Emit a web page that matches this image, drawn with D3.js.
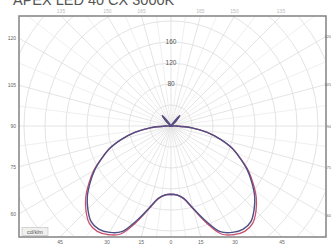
<!DOCTYPE html>
<html><head><meta charset="utf-8">
<script src="https://cdn.jsdelivr.net/npm/d3@7"></script>
<style>body{margin:0;background:#fff}svg{display:block}</style>
</head><body><svg id="c" width="331" height="250"></svg>
<script>
const title = "APEX LED 40 CX 3000K";
const unitLabel = "cd/klm";
const gammas = d3.range(0, 181, 5);
// C0-C180 plane (blue) and C90-C270 plane (red), intensity in cd/klm per gamma
const seriesC0 = [130,132,140,162,192,222,234,240,237,224,208,188,168,145,124,97,70,40,10,2,0,0,0,0,0,0,2,14,26,6,0,0,0,0,0,0,0];
const seriesC90 = [130,132,141,164,196,227,239,245,242,229,212,191,170,146,124,97,70,40,10,2,0,0,0,0,0,0,2,14,26,6,0,0,0,0,0,0,0];
const ringValues = d3.range(40, 401, 40);
const ringLabels = [80, 120, 160];
const edgeAngles = d3.range(-180, 181, 15);

const svg = d3.select("#c");
const frame = {x0: 19, y0: 16, x1: 326, y1: 237};
const cx = 171, cy = 126;
const r = d3.scaleLinear().domain([0, 400]).range([0, 210]);

svg.append("text").attr("x", 13).attr("y", 5).attr("font-family", "Liberation Sans, Arial, sans-serif")
  .attr("font-size", 14.5).attr("fill", "#555").text(title);

svg.append("clipPath").attr("id", "fc").append("rect")
  .attr("x", frame.x0).attr("y", frame.y0).attr("width", frame.x1 - frame.x0).attr("height", frame.y1 - frame.y0);

const g = svg.append("g").attr("clip-path", "url(#fc)");
const grid = g.append("g").attr("transform", `translate(${cx},${cy})`);
grid.selectAll("circle").data(ringValues).enter().append("circle")
  .attr("r", d => r(d)).attr("fill", "none").attr("stroke", "#dcdcdc").attr("stroke-width", 0.8);
grid.selectAll("line.sp").data(d3.range(0, 360, 7.5)).enter().append("line")
  .attr("x1", 0).attr("y1", 0)
  .attr("x2", d => Math.sin(d * Math.PI / 180) * 400)
  .attr("y2", d => Math.cos(d * Math.PI / 180) * 400)
  .attr("stroke", d => d % 15 === 0 ? "#d8d8d8" : "#e8e8e8").attr("stroke-width", 0.7);

// curves
function pts(vals) {
  const right = gammas.map((gm, i) => [Math.PI - gm * Math.PI / 180, r(vals[i])]);
  const left = gammas.slice().reverse().map((gm, k) => {
    const i = gammas.length - 1 - k;
    return [Math.PI + gm * Math.PI / 180, r(vals[i])];
  });
  return right.concat(left.slice(1));
}
const line = d3.lineRadial().angle(d => d[0]).radius(d => d[1]).curve(d3.curveCatmullRomClosed);
const cg = g.append("g").attr("transform", `translate(${cx},${cy})`);
cg.append("path").attr("d", line(pts(seriesC90))).attr("fill", "none").attr("stroke", "#c8506e").attr("stroke-width", 1.3);
cg.append("path").attr("d", line(pts(seriesC0))).attr("fill", "none").attr("stroke", "#4d4f86").attr("stroke-width", 1.4);

// ring labels
cg.selectAll("text.rl").data(ringLabels).enter().append("text")
  .attr("x", 0).attr("y", d => -r(d) + 2).attr("text-anchor", "middle")
  .attr("font-family", "Liberation Sans, Arial, sans-serif").attr("font-size", 6.5).attr("fill", "#555")
  .text(d => d);

// frame
svg.append("rect").attr("x", frame.x0).attr("y", frame.y0).attr("width", frame.x1 - frame.x0).attr("height", frame.y1 - frame.y0)
  .attr("fill", "none").attr("stroke", "#8a8a8a").attr("stroke-width", 1.6);

// edge angle labels
edgeAngles.forEach(a => {
  const rad = a * Math.PI / 180;
  const dx = Math.sin(rad), dy = Math.cos(rad);
  const ts = [];
  if (dx < -1e-9) ts.push([(frame.x0 - cx) / dx, "l"]);
  if (dx > 1e-9) ts.push([(frame.x1 - cx) / dx, "r"]);
  if (dy > 1e-9) ts.push([(frame.y1 - cy) / dy, "b"]);
  if (dy < -1e-9) ts.push([(frame.y0 - cy) / dy, "t"]);
  const [t, side] = ts.reduce((m, v) => v[0] < m[0] ? v : m);
  let x = cx + dx * t, y = cy + dy * t;
  let anchor = "middle", fs = 5;
  if (side === "l") { x = 16; y += 1.8; anchor = "end"; }
  if (side === "r") { x = 331; y += 1.5; anchor = "end"; fs = 3.8; }
  if (side === "b") { y = 244; }
  if (side === "t") { y = 13; }
  if (Math.abs(a) === 180 && side === "t") return;
  svg.append("text").attr("x", x).attr("y", y).attr("text-anchor", anchor)
    .attr("font-family", "Liberation Sans, Arial, sans-serif").attr("font-size", fs).attr("fill", side === "t" ? "#bbb" : "#666")
    .text(Math.abs(a));
});

// unit box
svg.append("rect").attr("x", 22).attr("y", 227.5).attr("width", 26).attr("height", 8)
  .attr("fill", "#f0f0f0").attr("stroke", "#bdbdbd").attr("stroke-width", 0.6);
svg.append("text").attr("x", 35).attr("y", 233.8).attr("text-anchor", "middle")
  .attr("font-family", "Liberation Sans, Arial, sans-serif").attr("font-size", 5.5).attr("fill", "#555").text(unitLabel);
</script></body></html>
